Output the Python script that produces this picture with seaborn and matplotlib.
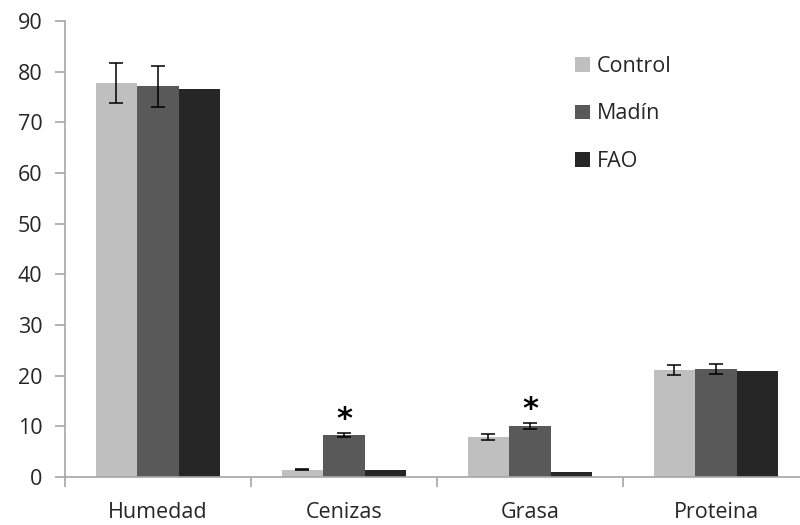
import numpy as np
import pandas as pd
import matplotlib
matplotlib.use("Agg")
import matplotlib.pyplot as plt
import seaborn as sns

# Composición proximal (%)
categorias = ["Humedad", "Cenizas", "Grasa", "Proteina"]
grupos = ["Control", "Madín", "FAO"]
control = [77.8, 1.4, 7.9, 21.1]
madin = [77.1, 8.2, 10.0, 21.3]
fao = [76.5, 1.3, 0.9, 21.0]
control_err = [3.9, 0.1, 0.5, 1.0]
madin_err = [4.0, 0.4, 0.6, 1.0]
fao_err = [0, 0, 0, 0]
significativo = [False, True, True, False]  # Madín vs control
y_ticks = [0, 10, 20, 30, 40, 50, 60, 70, 80, 90]

colores = ["#BFBFBF", "#595959", "#262626"]

df = pd.DataFrame({
    "categoria": categorias * 3,
    "grupo": sum([[g] * len(categorias) for g in grupos], []),
    "valor": control + madin + fao,
})
errores = [control_err, madin_err, fao_err]

sns.set_theme(style="white")
plt.rcParams["font.family"] = ["Open Sans", "DejaVu Sans"]

fs = 15.5
texto = "#262626"

fig = plt.figure(figsize=(8, 5.25), dpi=100)
ax = fig.add_axes([65 / 800, 48 / 525, 744 / 800, 456 / 525])

sns.barplot(data=df, x="categoria", y="valor", hue="grupo", order=categorias,
            hue_order=grupos, palette=colores, errorbar=None, width=0.67,
            saturation=1, linewidth=0, ax=ax)

for cont, err in zip(ax.containers, errores):
    xs = [p.get_x() + p.get_width() / 2 for p in cont]
    hs = [p.get_height() for p in cont]
    idx = [i for i, e in enumerate(err) if e > 0]
    if idx:
        ax.errorbar([xs[i] for i in idx], [hs[i] for i in idx],
                    yerr=[err[i] for i in idx], fmt="none", ecolor="black",
                    elinewidth=1.1, capsize=4.7, capthick=1.1)

# Asteriscos de significancia sobre Madín
cont_madin = ax.containers[1]
for i, sig in enumerate(significativo):
    if sig:
        p = cont_madin[i]
        ax.annotate("*", (p.get_x() + p.get_width() / 2, madin[i] + madin_err[i]),
                    xytext=(0, 4), textcoords="offset points",
                    ha="center", va="baseline", fontsize=22, fontweight="bold",
                    color="black", family="DejaVu Sans")

ax.set_ylim(0, 90)
ax.set_xlim(-0.5, len(categorias) - 0.5)
ax.set_yticks(y_ticks)
ax.set_xlabel("")
ax.set_ylabel("")

gris = "#A6A6A6"
for s in ["top", "right"]:
    ax.spines[s].set_visible(False)
for s in ["left", "bottom"]:
    ax.spines[s].set_color(gris)
    ax.spines[s].set_linewidth(1.2)

ax.tick_params(axis="y", which="major", direction="out", length=7.2, width=1.2,
               color=gris, left=True, pad=9, labelsize=fs, labelcolor=texto)
ax.tick_params(axis="x", which="major", length=0, pad=18, labelsize=fs,
               labelcolor=texto)
ax.set_xticks(np.arange(-0.5, len(categorias) + 0.5), minor=True)
ax.tick_params(axis="x", which="minor", direction="out", length=7.2, width=1.2,
               color=gris, bottom=True)

ax.legend_.remove()
handles = [plt.Rectangle((0, 0), 1, 1, facecolor=c, edgecolor="none") for c in colores]
fig.legend(handles, grupos, loc="upper left", bbox_to_anchor=(575 / 800, 1 - 56 / 525),
           frameon=False, fontsize=fs, handlelength=0.68, handleheight=0.68,
           labelspacing=1.23, handletextpad=0.32, borderpad=0, borderaxespad=0,
           labelcolor=texto)

fig.savefig("out.png", dpi=100)
